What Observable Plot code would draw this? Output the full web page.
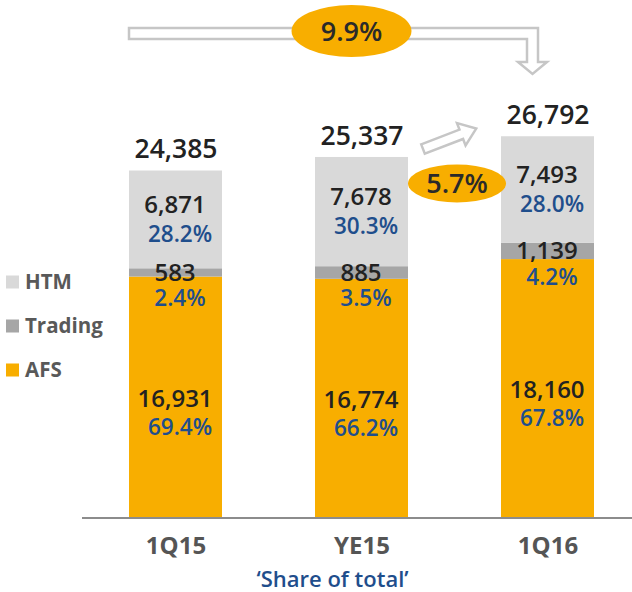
<!DOCTYPE html>
<html>
<head>
<meta charset="utf-8">
<script src="https://cdn.jsdelivr.net/npm/d3@7"></script>
<script src="https://cdn.jsdelivr.net/npm/@observablehq/plot@0.6"></script>
<style>
  html, body { margin: 0; padding: 0; background: #fff; }
  #chart { position: relative; width: 632px; height: 592px; }
  svg { font-family: "Open Sans", "Noto Sans", sans-serif; }
</style>
</head>
<body>
<div id="chart"></div>
<script>
// ---- data ----
const periods = ["1Q15", "YE15", "1Q16"];
const series = ["AFS", "Trading", "HTM"];           // stacking order, bottom to top
const afs = [16931, 16774, 18160];
const trading = [583, 885, 1139];
const htm = [6871, 7678, 7493];
const totals = [24385, 25337, 26792];
const afsPct = ["69.4%", "66.2%", "67.8%"];
const tradingPct = ["2.4%", "3.5%", "4.2%"];
const htmPct = ["28.2%", "30.3%", "28.0%"];
const growthLabels = ["9.9%", "5.7%"];               // 1Q15→1Q16, YE15→1Q16
const caption = "\u2018Share of total\u2019";
const legendOrder = ["HTM", "Trading", "AFS"];

// ---- styles ----
const colors = {AFS: "#f8ae00", Trading: "#a6a6a6", HTM: "#d9d9d9"};
const orange = "#f8ae00";
const valueColor = "#222222";
const pctColor = "#1f4e8c";

// ---- build tidy table ----
const valuesBy = {AFS: afs, Trading: trading, HTM: htm};
const pctBy = {AFS: afsPct, Trading: tradingPct, HTM: htmPct};
const rows = [];
periods.forEach((p, i) => {
  let base = 0;
  series.forEach(s => {
    const v = valuesBy[s][i];
    rows.push({period: p, series: s, value: v, mid: base + v / 2, pct: pctBy[s][i],
               label: d3.format(",")(v)});
    base += v;
  });
});
const totalRows = periods.map((p, i) => ({period: p, total: totals[i], label: d3.format(",")(totals[i])}));

const valueDy = {AFS: 2, Trading: 0, HTM: -15};
const pctDy = {AFS: 30, Trading: 26, HTM: 15};

const pxPerUnit = 347 / 24385;
const yMax = 30000;

const plot = Plot.plot({
  width: 632,
  height: 592,
  marginLeft: 82,
  marginRight: 0,
  marginTop: 0,
  marginBottom: 74.5,
  x: {domain: periods, range: [81.4, 641], paddingInner: 0.5, paddingOuter: 0.25, label: null},
  y: {domain: [0, yMax], range: [517.5, 517.5 - yMax * pxPerUnit], axis: null},
  color: {domain: series, range: series.map(s => colors[s])},
  marks: [
    Plot.barY(rows, {x: "period", y: "value", fill: "series"}),
    Plot.ruleY([0], {stroke: "#8c8c8c", strokeWidth: 2}),
    Plot.axisX({tickSize: 0, tickPadding: 19, fontSize: 24, fontWeight: "bold", fill: "#555555", label: null}),
    // segment values
    ...series.map(s => Plot.text(rows.filter(r => r.series === s), {
      x: "period", y: "mid", text: "label", dy: valueDy[s], dx: -1,
      fontSize: 24, fill: valueColor, fontWeight: 600
    })),
    // segment shares
    ...series.map(s => Plot.text(rows.filter(r => r.series === s), {
      x: "period", y: "mid", text: "pct", dy: pctDy[s], dx: 4,
      fontSize: 22.5, fill: pctColor, fontWeight: 600
    })),
    // totals
    Plot.text(totalRows, {x: "period", y: "total", text: "label", dy: -21, fontSize: 26.5, fill: valueColor, fontWeight: 600}),
    // caption
    Plot.text([caption], {frameAnchor: "bottom", lineAnchor: "middle", dy: 62, dx: -25, fontSize: 22, fill: pctColor, fontWeight: 600})
  ]
});

document.getElementById("chart").appendChild(plot);

// ---- annotations (positioned from the plot's scales) ----
const xs = plot.scale("x");
const bw = xs.bandwidth;
const left1 = xs.apply(periods[0]);
const c2 = xs.apply(periods[1]) + bw / 2;
const c3 = xs.apply(periods[2]) + bw / 2;
const svg = d3.select(plot);
const g = svg.append("g");

// big elbow arrow 1Q15 -> 1Q16
const ax = c3 - 15;          // vertical shaft center
const shaftTop = 28, sh = 11; // shaft top and thickness
g.append("path")
  .attr("d", `M${left1},${shaftTop} L${ax + sh / 2},${shaftTop} L${ax + sh / 2},62 L${ax + 14.5},62 L${ax},74 L${ax - 14.5},62 L${ax - sh / 2},62 L${ax - sh / 2},${shaftTop + sh} L${left1},${shaftTop + sh} Z`)
  .attr("fill", "#fff").attr("stroke", "#c6c6c6").attr("stroke-width", 2.5).attr("stroke-linejoin", "miter");
g.append("ellipse").attr("cx", c2 - 10).attr("cy", 31).attr("rx", 60).attr("ry", 26).attr("fill", orange);
g.append("text").attr("x", c2 - 10).attr("y", 31).attr("dy", "0.36em").attr("text-anchor", "middle")
  .attr("font-size", 27).attr("font-weight", 600).attr("fill", "#2a2a2a").text(growthLabels[0]);

// small diagonal arrow YE15 -> 1Q16
const sx = xs.apply(periods[1]) + bw + 15;
g.append("path")
  .attr("d", "M0,-5 L41,-5 L41,-12 L57,0 L41,12 L41,5 L0,5 Z")
  .attr("transform", `translate(${sx},149) rotate(-21)`)
  .attr("fill", "#fff").attr("stroke", "#c6c6c6").attr("stroke-width", 2.5);
const ex = xs.apply(periods[1]) + bw + 49;
g.append("ellipse").attr("cx", ex).attr("cy", 183.5).attr("rx", 49).attr("ry", 19).attr("fill", orange);
g.append("text").attr("x", ex).attr("y", 183.5).attr("dy", "0.36em").attr("text-anchor", "middle")
  .attr("font-size", 27).attr("font-weight", 600).attr("fill", "#2a2a2a").text(growthLabels[1]);

// legend
const legendY = [282, 326, 370];
const lg = svg.append("g").attr("text-anchor", "start");
legendOrder.forEach((s, i) => {
  lg.append("rect").attr("x", 6).attr("y", legendY[i] - 6.5).attr("width", 13).attr("height", 13).attr("fill", colors[s]);
  lg.append("text").attr("x", 25).attr("y", legendY[i]).attr("dy", "0.36em").attr("text-anchor", "start")
    .attr("font-size", 20.5).attr("font-weight", "bold").attr("fill", "#595959").text(s);
});
</script>
</body>
</html>
